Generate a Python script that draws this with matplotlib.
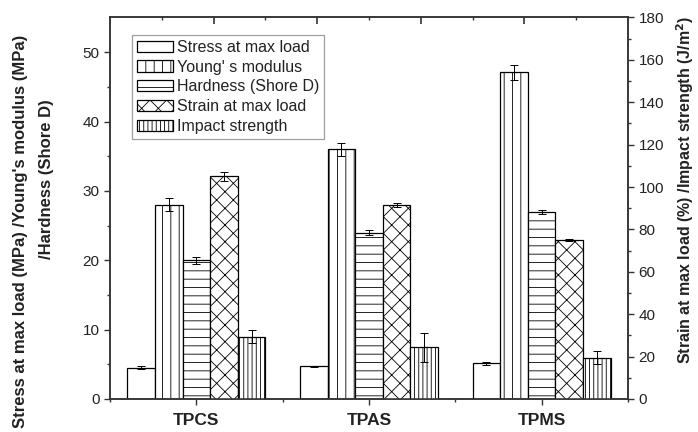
import matplotlib
matplotlib.use('Agg')
import matplotlib.pyplot as plt
import numpy as np

plt.rcParams['font.family'] = ['Liberation Sans', 'DejaVu Sans']
plt.rcParams['hatch.linewidth'] = 0.6
plt.rcParams['hatch.color'] = '#444444'

samples = ['TPCS', 'TPAS', 'TPMS']

# left axis series (MPa / Shore D)
stress = [4.5, 4.7, 5.15]
stress_err = [0.2, 0.1, 0.2]
youngs = [28.0, 36.0, 47.1]
youngs_err = [0.95, 0.95, 1.05]
hardness = [20.0, 24.0, 27.0]
hardness_err = [0.5, 0.3, 0.3]

# right axis series (% / J/m2)
strain = [105.0, 91.5, 75.0]
strain_err = [2.1, 0.8, 0.6]
impact = [29.4, 24.4, 19.5]
impact_err = [3.1, 6.9, 3.2]

labels = ['Stress at max load', "Young' s modulus", 'Hardness (Shore D)',
          'Strain at max load', 'Impact strength']
hatches = ['', '||', '--', 'xx', '||||']

x = np.arange(1, len(samples) + 1)
w = 0.16

fig = plt.figure(figsize=(6.98, 4.32), dpi=100)
ax = fig.add_subplot(111)
fig.subplots_adjust(left=0.1576, right=0.8997, bottom=0.0764, top=0.9595)
ax2 = ax.twinx()

bar_kw = dict(width=w, color='white', edgecolor='black', linewidth=0.9)
err_kw = dict(ecolor='black', elinewidth=0.7, capsize=3, capthick=0.7)

handles = []
series = [(ax, stress, stress_err), (ax, youngs, youngs_err), (ax, hardness, hardness_err),
          (ax2, strain, strain_err), (ax2, impact, impact_err)]
for i, (a, vals, errs) in enumerate(series):
    pos = x + (i - 2) * w
    b = a.bar(pos, vals, yerr=errs, hatch=hatches[i], label=labels[i],
              error_kw=err_kw, **bar_kw)
    handles.append(b)

ax.set_xlim(0.5, 3.5)
ax.set_ylim(0, 55)
ax2.set_ylim(0, 180)

ax.set_xticks(x)
ax.set_xticklabels(samples, fontweight='bold', fontsize=12.5)
ax.set_xticks([0.5, 1.5, 2.5, 3.5], minor=True)
ax.set_yticks(np.arange(0, 51, 10))
ax.set_yticks(np.arange(0, 55, 5), minor=True)
ax2.set_yticks(np.arange(0, 181, 20))
ax2.set_yticks(np.arange(0, 181, 10), minor=True)

for a in (ax, ax2):
    a.tick_params(which='major', direction='out', length=4, width=1, colors='#333333',
                  labelsize=11, labelcolor='#222222')
    a.tick_params(which='minor', direction='out', length=2.5, width=1, colors='#333333')
    for s in a.spines.values():
        s.set_color('#333333')
        s.set_linewidth(1.1)
ax.tick_params(axis='x', which='major', pad=6, labelsize=12.5)

# inward ticks along the top edge
top = ax.secondary_xaxis('top')
top.set_xticks([1.1, 1.7, 2.3, 2.9])
top.set_xticks([0.8, 1.4, 2.0, 2.6, 3.2], minor=True)
top.set_xticklabels([])
top.tick_params(which='major', direction='in', length=5, width=1.2, colors='#333333')
top.tick_params(which='minor', direction='in', length=2.5, width=1, colors='#333333')
top.spines['top'].set_visible(False)

fig.text(0.029, 0.465, "Stress at max load (MPa) /Young's modulus (MPa)", rotation=90,
         ha='center', va='center', fontsize=12, fontweight='bold', color='#222222')
fig.text(0.067, 0.586, "/Hardness (Shore D)", rotation=90,
         ha='center', va='center', fontsize=12, fontweight='bold', color='#222222')
fig.text(0.981, 0.56, "Strain at max load (%) /Impact strength (J/m$^\\mathbf{2}$)", rotation=90,
         ha='center', va='center', fontsize=11.5, fontweight='bold', color='#222222')

leg = ax2.legend(handles=handles, loc='upper left', bbox_to_anchor=(0.042, 0.954),
                 borderaxespad=0, fontsize=11.5, frameon=True, fancybox=False,
                 handlelength=2.3, handleheight=0.7, handletextpad=0.25,
                 labelspacing=0.3, borderpad=0.3)
leg.get_frame().set_edgecolor('#888888')
leg.get_frame().set_linewidth(0.9)
for t in leg.get_texts():
    t.set_color('#222222')

plt.savefig('out.png', dpi=100)
